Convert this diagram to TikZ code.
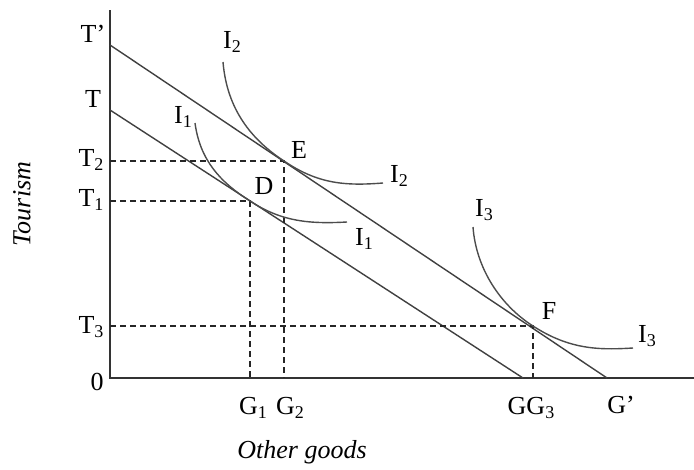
\documentclass[tikz,border=0pt]{standalone}
\usepackage{fontspec}
\setmainfont{Liberation Serif}
\newcommand{\lowsub}[1]{\raisebox{-0.35ex}{\fontsize{18}{19}\selectfont #1}}
\tikzset{
  lbl/.style={font=\fontsize{26}{28}\selectfont, inner sep=0pt},
  axisline/.style={line width=2pt, draw=black!80},
  budget/.style={line width=1.4pt, draw=black!75},
  icurve/.style={line width=1.4pt, draw=black!70},
  guide/.style={line width=1.4pt, dash pattern=on 6pt off 4pt, draw=black!85},
}
\begin{document}
\begin{tikzpicture}[x=1pt,y=-1pt]
\useasboundingbox (0,0) rectangle (694,469);
% axes
\coordinate (O) at (110,378);
\coordinate (Ytop) at (110,10);
\coordinate (Xend) at (694,378);
\draw[axisline] (Ytop) -- (O) -- (Xend);
% budget lines
\coordinate (Tp) at (110,45);
\coordinate (Gp) at (607,378);
\coordinate (Tt) at (110,110);
\coordinate (Gg) at (523,378);
\draw[budget] (Tp) -- (Gp);
\draw[budget] (Tt) -- (Gg);
% tangency points
\coordinate (E) at (284,161);
\coordinate (D) at (250,201);
\coordinate (F) at (533,326);
% guides
\coordinate (T2) at (110,161);
\coordinate (T1) at (110,201);
\coordinate (T3) at (110,326);
\coordinate (G1) at (250,378);
\coordinate (G2) at (284,378);
\coordinate (G3) at (533,378);
\draw[guide] (T2) -- (E) -- (G2);
\draw[guide] (T1) -- (D) -- (G1);
\draw[guide] (T3) -- (F) -- (G3);
% indifference curves
\draw[icurve] (223,62) .. controls (227,110) and (252,140) .. (E)
  .. controls (318,184) and (345,186) .. (383,183);
\draw[icurve] (195,123) .. controls (200,160) and (220,182) .. (D)
  .. controls (282,222) and (310,224) .. (347,222);
\draw[icurve] (473,227) .. controls (476,268) and (500,305) .. (F)
  .. controls (570,350) and (600,350) .. (633,348);
% labels
\node[lbl] (lTp) at (93,34) {T'};
\node[lbl] (lT) at (93,99) {T};
\node[lbl] (lT2) at (91,160) {T\lowsub{2}};
\node[lbl] (lT1) at (91,200) {T\lowsub{1}};
\node[lbl] (lT3) at (91,327) {T\lowsub{3}};
\node[lbl] (l0) at (97,382) {0};
\node[lbl] (lI2a) at (232,42) {I\lowsub{2}};
\node[lbl] (lI1a) at (183,117) {I\lowsub{1}};
\node[lbl] (lE) at (299,150) {E};
\node[lbl] (lD) at (264,186) {D};
\node[lbl] (lI2b) at (399,176) {I\lowsub{2}};
\node[lbl] (lI1b) at (364,239) {I\lowsub{1}};
\node[lbl] (lI3a) at (484,210) {I\lowsub{3}};
\node[lbl] (lF) at (549,311) {F};
\node[lbl] (lI3b) at (647,336) {I\lowsub{3}};
\node[lbl] (lG1) at (253,408) {G\lowsub{1}};
\node[lbl] (lG2) at (290,408) {G\lowsub{2}};
\node[lbl] (lGG3) at (531,408) {GG\lowsub{3}};
\node[lbl] (lGp) at (621,405) {G'};
\node[lbl, rotate=90] (ltour) at (22,204) {\itshape Tourism};
\node[lbl] (lother) at (302,452) {\itshape Other goods};
\end{tikzpicture}
\end{document}
